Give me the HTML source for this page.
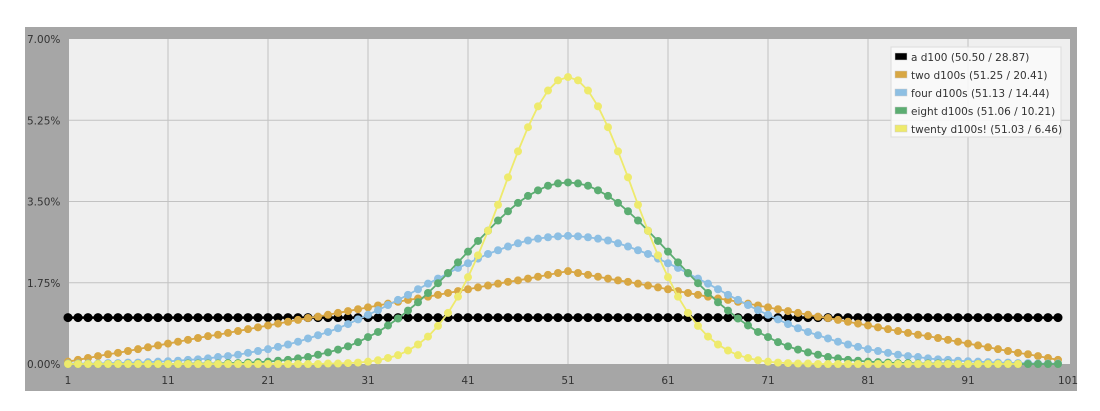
<!DOCTYPE html>
<html><head><meta charset="utf-8"><style>
body{margin:0;background:#fff;}
svg text{font-family:"DejaVu Sans","Liberation Sans",sans-serif;font-size:10.5px;fill:#333;}
</style></head><body>
<svg id="chart" width="1100" height="406" xmlns="http://www.w3.org/2000/svg">
<rect x="25" y="27" width="1052" height="364" fill="#a6a6a6"/>
<rect x="69" y="39" width="1001" height="325" fill="#efefef"/>
<g id="grid"></g><g id="axes"></g><g id="series"></g>
<g id="legend"></g>
</svg>
<script>
const xTicks=[1,11,21,31,41,51,61,71,81,91,101];
const yTicks=[0,1.75,3.5,5.25,7];
const yTickLabels=["0.00%","1.75%","3.50%","5.25%","7.00%"];
const seriesNames=["a d100 (50.50 / 28.87)","two d100s (51.25 / 20.41)","four d100s (51.13 / 14.44)","eight d100s (51.06 / 10.21)","twenty d100s! (51.03 / 6.46)"];
const seriesColors=["#000000","#d8a743","#8dbfe3","#5cad72","#eeea6c"];
const oneD100=[1,1,1,1,1,1,1,1,1,1,1,1,1,1,1,1,1,1,1,1,1,1,1,1,1,1,1,1,1,1,1,1,1,1,1,1,1,1,1,1,1,1,1,1,1,1,1,1,1,1,1,1,1,1,1,1,1,1,1,1,1,1,1,1,1,1,1,1,1,1,1,1,1,1,1,1,1,1,1,1,1,1,1,1,1,1,1,1,1,1,1,1,1,1,1,1,1,1,1,1];
const twoD100=[.05,.09,.13,.17,.21,.24,.28,.32,.36,.40,.44,.48,.52,.56,.60,.63,.67,.71,.75,.79,.83,.87,.91,.95,.99,1.02,1.06,1.10,1.14,1.18,1.22,1.26,1.30,1.34,1.38,1.41,1.45,1.49,1.53,1.57,1.61,1.65,1.69,1.73,1.77,1.80,1.84,1.88,1.92,1.96,2.00,
1.96,1.92,1.88,1.84,1.80,1.77,1.73,1.69,1.65,1.61,1.57,1.53,1.49,1.45,1.41,1.38,1.34,1.30,1.26,1.22,1.18,1.14,1.10,1.06,1.02,.99,.95,.91,.87,.83,.79,.75,.71,.67,.63,.60,.56,.52,.48,.44,.40,.36,.32,.28,.24,.21,.17,.13,.09];
const fourD100=[.01,.01,.01,.01,.02,.02,.03,.03,.04,.05,.06,.07,.09,.10,.12,.15,.17,.20,.24,.28,.32,.37,.42,.48,.55,.62,.69,.77,.86,.96,1.06,1.16,1.27,1.38,1.49,1.61,1.73,1.84,1.95,2.07,2.17,2.27,2.37,2.45,2.53,2.60,2.66,2.70,2.73,2.75,2.76,
2.75,2.73,2.70,2.66,2.60,2.53,2.45,2.37,2.27,2.17,2.07,1.95,1.84,1.73,1.61,1.49,1.38,1.27,1.16,1.06,.96,.86,.77,.69,.62,.55,.48,.42,.37,.32,.28,.24,.20,.17,.15,.12,.10,.09,.07,.06,.05,.04,.03,.03,.02,.02,.01,.01,.01];
const eightD100=[0,0,0,0,0,0,0,0,0,0,0,0,.01,.01,.01,.01,.02,.02,.03,.04,.05,.07,.09,.12,.15,.20,.25,.31,.38,.47,.58,.69,.83,.98,1.15,1.33,1.53,1.74,1.96,2.19,2.42,2.65,2.87,3.09,3.29,3.47,3.62,3.74,3.84,3.89,3.91,
3.89,3.84,3.74,3.62,3.47,3.29,3.09,2.87,2.65,2.42,2.19,1.96,1.74,1.53,1.33,1.15,.98,.83,.69,.58,.47,.38,.31,.25,.20,.15,.12,.09,.07,.05,.04,.03,.02,.02,.01,.01,.01,.01,0,0,0,0,0,0,0,0,0,0,0];
const twentyD100=[0,0,0,0,0,0,0,0,0,0,0,0,0,0,0,0,0,0,0,0,0,0,0,0,0,0,.01,.01,.02,.03,.05,.08,.13,.19,.29,.42,.59,.82,1.10,1.45,1.87,2.34,2.87,3.43,4.02,4.58,5.10,5.55,5.89,6.11,6.18,
6.11,5.89,5.55,5.10,4.58,4.02,3.43,2.87,2.34,1.87,1.45,1.10,.82,.59,.42,.29,.19,.13,.08,.05,.03,.02,.01,.01,0,0,0,0,0,0,0,0,0,0,0,0,0,0,0,0,0,0,0,0,0];
const seriesData=[oneD100,twoD100,fourD100,eightD100,twentyD100];

const NS="http://www.w3.org/2000/svg";
const X0=68,X1=1068,Y0=364,Y1=39;
function xs(v){return X0+(v-1)/100*(X1-X0);}
function ys(v){return Y0-v/7*(Y0-Y1);}
function mk(tag,attrs,parent){const e=document.createElementNS(NS,tag);for(const k in attrs)e.setAttribute(k,attrs[k]);parent.appendChild(e);return e;}
const grid=document.getElementById('grid'),axes=document.getElementById('axes'),ser=document.getElementById('series'),leg=document.getElementById('legend');
xTicks.forEach((t,i)=>{
  if(i>0&&i<xTicks.length-1){const l=mk('line',{x1:xs(t),x2:xs(t),y1:Y1,y2:Y0,stroke:'#c2c2c2','stroke-width':1},grid);
  
  }
  const tx=mk('text',{x:xs(t),y:384,'text-anchor':'middle'},axes);tx.textContent=t;
  
  
});
yTicks.forEach((t,i)=>{
  if(i>0&&i<yTicks.length-1){const l=mk('line',{x1:69,x2:1070,y1:ys(t),y2:ys(t),stroke:'#c2c2c2','stroke-width':1},grid);
  
  }
  const tx=mk('text',{x:27,y:ys(t)+4},axes);tx.textContent=yTickLabels[i];
  
  
});
seriesData.forEach((arr,si)=>{
  const g=mk('g',{},ser);
  
  
  const pts=arr.map((v,i)=>xs(i+1)+','+ys(v)).join(' ');
  mk('polyline',{points:pts,fill:'none',stroke:seriesColors[si],'stroke-width':si==0?2.5:1.8},g);
  arr.forEach((v,i)=>{
    const c=mk('circle',{cx:xs(i+1),cy:ys(v),r:si==0?4.5:4,fill:seriesColors[si]},g);
    
    
  });
});
mk('rect',{x:891,y:47,width:170,height:90,fill:'#fafafa','fill-opacity':0.9,stroke:'#dcdcdc'},leg);
seriesNames.forEach((n,i)=>{
  const y=57+i*18;
  const sw=mk('rect',{x:895,y:y-4,width:12,height:7,fill:seriesColors[i],stroke:'#ccc','stroke-width':0.5},leg);
  
  
  const t=mk('text',{x:911,y:y+4},leg);t.textContent=n;
  
  
});
</script>
</body></html>
